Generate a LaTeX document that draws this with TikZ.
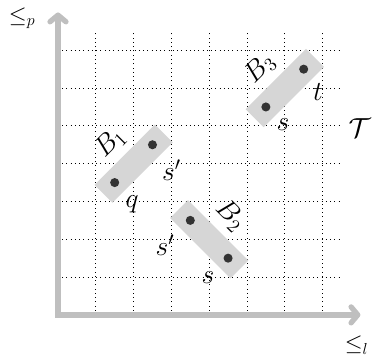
\documentclass[tikz,border=0pt]{standalone}
\usetikzlibrary{arrows.meta}
\tikzset{
  axis/.style={draw=black!25, line width=4pt, line join=miter},
  gridline/.style={black, line width=0.6pt, dash pattern=on 0.6pt off 2.6pt},
  blockbox/.style={fill=black!16, draw=none, minimum width=2.26cm, minimum height=0.67cm, inner sep=0pt},
  elem/.style={circle, fill=black!80, minimum size=0.24cm, inner sep=0pt},
  lbl/.style={inner sep=0pt, font=\huge},
  axlbl/.style={inner sep=0pt, font=\LARGE},
}
\begin{document}
\begin{tikzpicture}
\useasboundingbox (-1.534,-1.14) rectangle (8.36,8.33);
% grid
\draw[gridline] (0,0) grid[step=1] (7.45,7.45);
% axes
\coordinate (o) at (0,0);
\coordinate (ytop) at (0,8.0);
\coordinate (xend) at (8.0,0);
\draw[axis, {Straight Barb[round,length=5pt,width=12pt]}-{Straight Barb[round,length=5pt,width=12pt]}] (ytop) -- (o) -- (xend);
\node[axlbl] (lp) at (-0.95,7.85) {$\le_p$};
\node[axlbl] (ll) at (7.9,-0.8) {$\le_l$};
% blocks
\node[blockbox, rotate=45] (b1) at (2,4) {};
\node[blockbox, rotate=-45] (b2) at (4,2) {};
\node[blockbox, rotate=45] (b3) at (6,6) {};
% elements
\node[elem] (q) at (1.5,3.5) {};
\node[elem] (s1p) at (2.5,4.5) {};
\node[elem] (s2p) at (3.5,2.5) {};
\node[elem] (s2) at (4.5,1.5) {};
\node[elem] (s3) at (5.5,5.5) {};
\node[elem] (t) at (6.5,6.5) {};
% labels
\node[lbl, rotate=45] (lb1) at (1.38,4.55) {$B_1$};
\node[lbl, rotate=-45] (lb2) at (4.56,2.63) {$B_2$};
\node[lbl, rotate=45] (lb3) at (5.34,6.53) {$B_3$};
\node[lbl] (lq) at (1.96,2.93) {$q$};
\node[lbl] (ls1p) at (3.0,3.82) {$s'$};
\node[lbl] (ls2p) at (2.83,1.85) {$s'$};
\node[lbl] (ls2) at (3.97,1.0) {$s$};
\node[lbl] (lt) at (6.88,5.9) {$t$};
\node[lbl] (ls3) at (5.95,5.03) {$s$};
\node[lbl] (lT) at (7.98,4.95) {$\mathcal{T}$};
\end{tikzpicture}
\end{document}
